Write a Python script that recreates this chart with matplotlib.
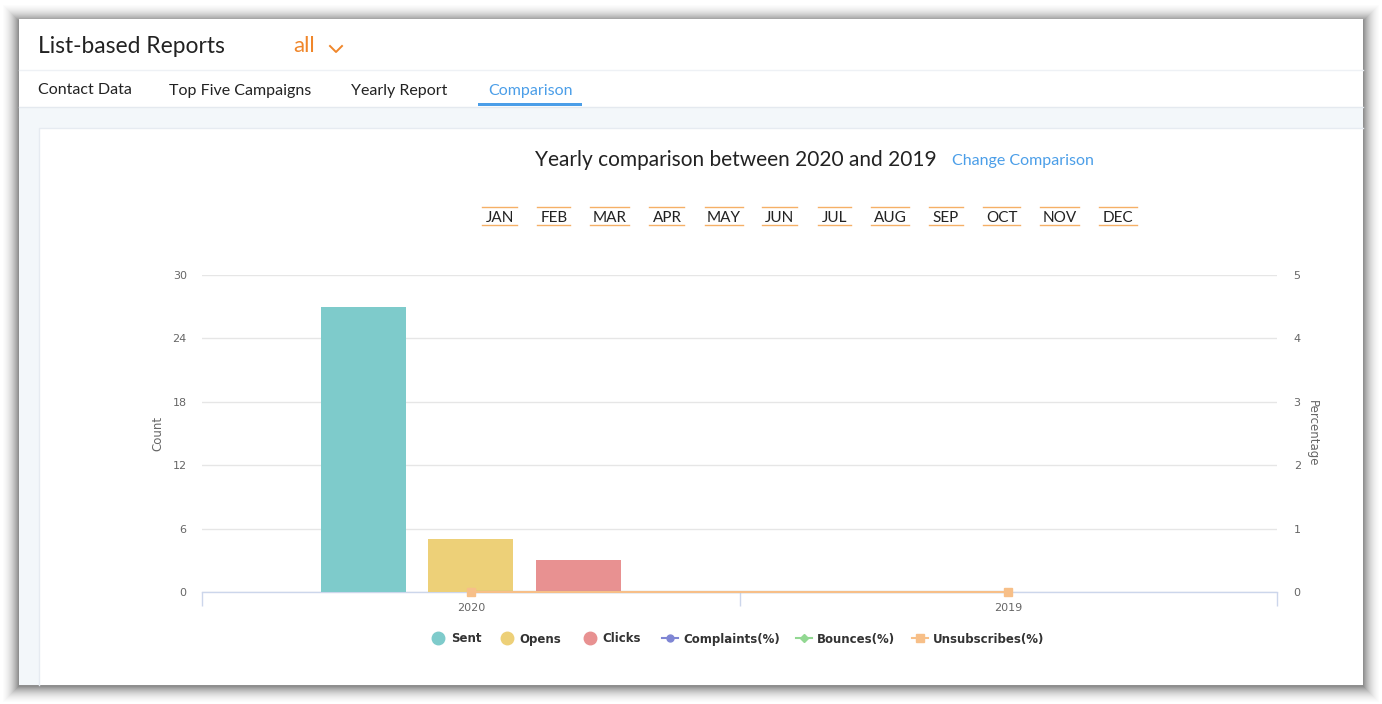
import matplotlib
matplotlib.use("Agg")
import matplotlib.pyplot as plt
from matplotlib.patches import Rectangle
import numpy as np

# ---------------- data ----------------
years = ["2020", "2019"]
sent = [27, 0]
opens = [5, 0]
clicks = [3, 0]
complaints_pct = [0, 0]
bounces_pct = [0, 0]
unsubscribes_pct = [0, 0]
count_ticks = [0, 6, 12, 18, 24, 30]
pct_ticks = [0, 1, 2, 3, 4, 5]
months = ["JAN", "FEB", "MAR", "APR", "MAY", "JUN", "JUL", "AUG", "SEP", "OCT", "NOV", "DEC"]
tabs = ["Contact Data", "Top Five Campaigns", "Yearly Report", "Comparison"]
legend_labels = ["Sent", "Opens", "Clicks", "Complaints(%)", "Bounces(%)", "Unsubscribes(%)"]

W, H = 1382, 704
fig = plt.figure(figsize=(W / 100, H / 100), dpi=100)
fig.patch.set_facecolor("white")

UI = "Lato"

# ---------------- background UI ----------------
bg = fig.add_axes([0, 0, 1, 1])
bg.set_xlim(0, W)
bg.set_ylim(H, 0)
bg.axis("off")

px0, py0, px1, py1 = 19, 19, 1363, 685
# soft shadow, darker near the panel edge
n = 16
for i in range(n, 0, -1):
    a = 0.012 + 0.07 * ((n - i) / n) ** 2
    bg.add_patch(Rectangle((px0 - i, py0 - i + 2), (px1 - px0) + 2 * i, (py1 - py0) + 2 * i - 1,
                           facecolor="black", edgecolor="none", alpha=a, zorder=1))
# panel
bg.add_patch(Rectangle((px0, py0), px1 - px0, py1 - py0, facecolor="white", edgecolor="none", zorder=2))
# light content background
bg.add_patch(Rectangle((px0, 107), px1 - px0, py1 - 107, facecolor="#f3f7fa", edgecolor="none", zorder=3))
# inner card
bg.add_patch(Rectangle((39, 128), px1 - 39, py1 - 128, facecolor="white", edgecolor="none", zorder=4))
bg.plot([39, 39, px1], [py1, 128, 128], color="#e6ebf1", lw=1, zorder=4.5)
# separators
bg.plot([px0, px1], [69.5, 69.5], color="#eef1f5", lw=1, zorder=5)
bg.plot([px0, px1], [107, 107], color="#e4e9ef", lw=1, zorder=5)

# header
bg.text(38, 46.5, "List-based Reports", fontsize=16.4, family=UI, color="#222222", va="center", ha="left", zorder=6)
bg.text(293, 46.5, "all", fontsize=16, family=UI, color="#f0862a", va="center", ha="left", zorder=6)
bg.plot([330, 336, 342], [46, 52, 46], color="#f0862a", lw=1.4, zorder=6)

# tabs
tab_x = [38, 169, 351, 488]
for t, xx in zip(tabs, tab_x):
    col = "#4b9ee8" if t == "Comparison" else "#222222"
    bg.text(xx, 90.5, t, fontsize=11.5, family=UI, color=col, va="center", ha="left", zorder=6)
bg.add_patch(Rectangle((478, 103), 104, 3, facecolor="#4b9ee8", edgecolor="none", zorder=6))

# title
bg.text(736, 159.5, "Yearly comparison between 2020 and 2019", fontsize=15, family=UI,
        color="#222222", va="center", ha="center", zorder=6)
bg.text(952, 160.5, "Change Comparison", fontsize=11.5, family=UI, color="#4b9ee8",
        va="center", ha="left", zorder=6)

# months
month_cx = [500, 554, 610, 667, 724, 780, 835, 890, 946, 1002, 1060, 1118]
month_w = [35, 33, 39, 35, 38, 35, 33, 38, 34, 37, 39, 38]
for m, cx, w in zip(months, month_cx, month_w):
    bg.text(cx, 217.5, m, fontsize=11, family=UI, color="#222222", va="center", ha="center", zorder=6)
    bg.plot([cx - w / 2, cx + w / 2], [207, 207], color="#f5b066", lw=1, zorder=6)
    bg.plot([cx - w / 2, cx + w / 2], [224.5, 224.5], color="#f5b066", lw=1, zorder=6)

# ---------------- chart ----------------
L, R, T, B = 202, 1277, 275, 592
ax = fig.add_axes([L / W, 1 - B / H, (R - L) / W, (B - T) / H], zorder=2)
ax.set_facecolor("none")
ax2 = ax.twinx()
ax2.set_facecolor("none")

c_sent, c_opens, c_clicks = "#7ecbcb", "#edd078", "#e89191"
c_compl, c_bounce, c_unsub = "#7f86d4", "#92d892", "#f7bf88"

x = np.arange(len(years))
bw = 0.158
off = 0.2
ax.bar(x - off, sent, bw, color=c_sent, zorder=3)
ax.bar(x, opens, bw, color=c_opens, zorder=3)
ax.bar(x + off, clicks, bw, color=c_clicks, zorder=3)

ax.set_xlim(-0.5, 1.5)
ax.set_ylim(0, 30)
ax.set_yticks(count_ticks)
ax.set_xticks(x)
ax.set_xticklabels(years)
ax.set_xticks([-0.5, 0.5, 1.5], minor=True)
ax.tick_params(axis="x", which="major", length=0, pad=8, labelsize=8, labelcolor="#666666")
ax.tick_params(axis="x", which="minor", length=10, width=1, color="#ccd6eb")
ax.tick_params(axis="y", length=0, pad=11, labelsize=8, labelcolor="#666666")
ax.grid(axis="y", color="#e6e6e6", lw=1, zorder=0)
ax.set_axisbelow(True)
for s in ["top", "left", "right"]:
    ax.spines[s].set_visible(False)
ax.spines["bottom"].set_color("#ccd6eb")
ax.spines["bottom"].set_linewidth(1)
ax.set_ylabel("Count", fontsize=8.5, color="#666666", va="center")
ax.yaxis.set_label_coords((158 - L) / (R - L), 0.5)

ax2.set_ylim(0, 5)
ax2.set_yticks(pct_ticks)
ax2.tick_params(axis="y", length=0, pad=12, labelsize=8, labelcolor="#666666")
for s in ["top", "left", "right", "bottom"]:
    ax2.spines[s].set_visible(False)
ax2.set_ylabel("Percentage", fontsize=8.5, color="#666666", rotation=270, va="center")
ax2.yaxis.set_label_coords((1312 - L) / (R - L), 0.5)

ax2.plot(x, complaints_pct, color=c_compl, lw=1.5, marker="o", ms=5, clip_on=False, zorder=4)
ax2.plot(x, bounces_pct, color=c_bounce, lw=1.5, marker="D", ms=4.5, clip_on=False, zorder=4)
ax2.plot(x, unsubscribes_pct, color=c_unsub, lw=1.5, marker="s", ms=5.5, clip_on=False, zorder=5)

# ---------------- legend (row under the chart) ----------------
ly = 638
leg_style = [
    (c_sent, "o", 9, False),
    (c_opens, "o", 9, False),
    (c_clicks, "o", 9, False),
    (c_compl, "o", 5, True),
    (c_bounce, "D", 4.5, True),
    (c_unsub, "s", 5.5, True),
]
sym_x = [438, 507, 590, 670, 804, 920]
txt_x = [451, 519, 602, 683, 817, 933]
for lab, (col, mk, ms, has_line), sx, tx in zip(legend_labels, leg_style, sym_x, txt_x):
    if has_line:
        bg.plot([sx - 8, sx + 8], [ly, ly], color=col, lw=1.5, zorder=6)
    bg.plot([sx], [ly], ls="none", marker=mk, ms=ms, color=col, zorder=7)
    bg.text(tx, ly + 4.5, lab, fontsize=8.5, fontweight="bold", family="DejaVu Sans",
            color="#333333", va="baseline", ha="left", zorder=7)

fig.savefig("out.png", dpi=100)
